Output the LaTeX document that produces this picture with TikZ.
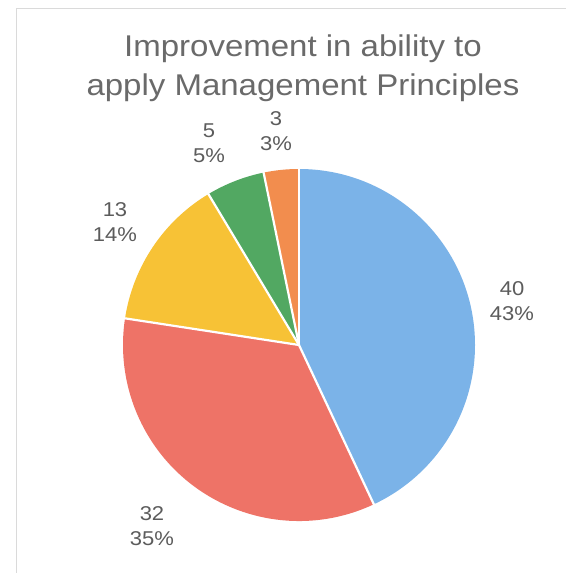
\documentclass[tikz,border=0pt]{standalone}
\usepackage{fontspec}
\setmainfont{Liberation Sans}
\definecolor{cblue}{HTML}{7BB3E8}
\definecolor{cred}{HTML}{EE7367}
\definecolor{cyellow}{HTML}{F7C236}
\definecolor{cgreen}{HTML}{52A862}
\definecolor{corange}{HTML}{F28D4E}
\definecolor{ctitle}{HTML}{6A6A6A}
\definecolor{clabel}{HTML}{5C5C5C}
\definecolor{cframe}{HTML}{DADADA}
\tikzset{
  slice/.style={draw=white, line width=2.2pt, line join=round},
  titletext/.style={font=\fontsize{30}{36}\selectfont, text=ctitle, xscale=1.1, transform shape, anchor=base, inner sep=0pt},
  lbl/.style={font=\fontsize{20}{25}\selectfont, text=clabel, align=center, xscale=1.1, transform shape, inner sep=0pt}
}
\begin{document}
\begin{tikzpicture}[x=1pt,y=1pt]
\useasboundingbox (0,0) rectangle (570,578);
\fill[white] (0,0) rectangle (570,578);
% faint frame
\draw[cframe, line width=0.6pt] (16,5) -- (16,570) -- (566,570);
\coordinate (c) at (299,233);
\def\R{176}
\fill[cblue]   (c) -- ++(90:\R) arc[start angle=90, end angle=-64.84, radius=\R] -- cycle;
\fill[cred]    (c) -- ++(-64.84:\R) arc[start angle=-64.84, end angle=-188.71, radius=\R] -- cycle;
\fill[cyellow] (c) -- ++(-188.71:\R) arc[start angle=-188.71, end angle=-239.03, radius=\R] -- cycle;
\fill[cgreen]  (c) -- ++(-239.03:\R) arc[start angle=-239.03, end angle=-258.39, radius=\R] -- cycle;
\fill[corange] (c) -- ++(-258.39:\R) arc[start angle=-258.39, end angle=-270, radius=\R] -- cycle;
\foreach \a in {90,-64.84,-188.71,-239.03,-258.39}
  \draw[slice] (c) -- ++(\a:\R+1);
% title
\node[titletext] (t1) at (303,521) {Improvement in ability to};
\node[titletext] (t2) at (303,482) {apply Management Principles};
% labels
\node[lbl] (l40) at (512,277) {40\\43\%};
\node[lbl] (l32) at (152,52) {32\\35\%};
\node[lbl] (l13) at (115,356) {13\\14\%};
\node[lbl] (l5) at (209,435) {5\\5\%};
\node[lbl] (l3) at (276,447) {3\\3\%};
\end{tikzpicture}
\end{document}
